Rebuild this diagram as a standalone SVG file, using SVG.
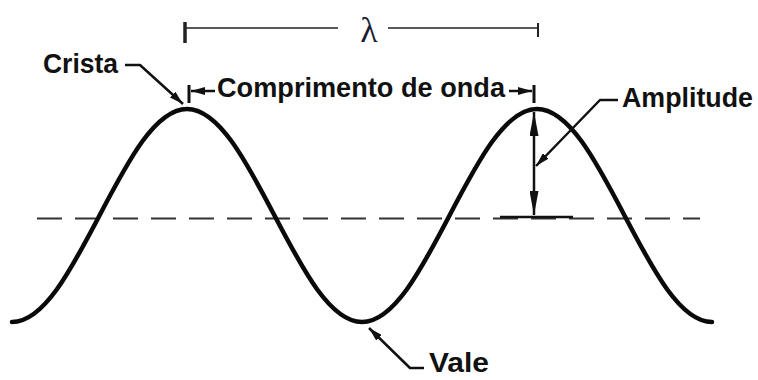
<svg xmlns="http://www.w3.org/2000/svg" width="758" height="380" viewBox="0 0 758 380">
<style>
.lbl{font-family:"Liberation Sans",Arial,sans-serif;font-weight:bold;font-size:27px;fill:#111}
.ptr{fill:none;stroke:#111;stroke-width:2.5;stroke-linejoin:round}
.thin{fill:none;stroke:#222;stroke-width:1.6}
</style>
<defs>
<marker id="ah" viewBox="0 0 14 8" refX="14" refY="4" markerWidth="14" markerHeight="8" markerUnits="userSpaceOnUse" orient="auto-start-reverse">
<path d="M0,0 L14,4 L0,8 Z" fill="#111"/>
</marker>
<marker id="ahl" viewBox="0 0 24 9" refX="24" refY="4.5" markerWidth="24" markerHeight="9" markerUnits="userSpaceOnUse" orient="auto-start-reverse">
<path d="M0,0 L24,4.5 L0,9 Z" fill="#111"/>
</marker>
</defs>
<rect width="758" height="380" fill="#fff"/>
<g id="axis">
<line x1="37" y1="218.5" x2="700" y2="218.5" stroke="#333" stroke-width="2" stroke-dasharray="25 13"/>
</g>
<g id="wave">
<path d="M12,322 C43.67,322 70.97,270.06 99.5,215.5 C128.03,160.94 155.33,109 187,109 C218.67,109 245.97,160.94 274.5,215.5 C303.03,270.06 330.33,322 362,322 C393.67,322 420.97,270.06 449.5,215.5 C478.03,160.94 505.33,109 537,109 C568.67,109 595.97,160.94 624.5,215.5 C653.03,270.06 680.33,322 712,322" fill="none" stroke="#0a0a0a" stroke-width="4.5" stroke-linecap="round"/>
</g>
<g id="lambda">
<path class="thin" d="M185,28 H338 M388,28 H538"/>
<line x1="185" y1="22" x2="185" y2="43" stroke="#222" stroke-width="3.5"/>
<line x1="538" y1="23" x2="538" y2="37" stroke="#222" stroke-width="2"/>
<text x="369" y="42" text-anchor="middle" style="font-family:'Liberation Serif','Times New Roman',serif;font-size:36px;fill:#1c1c30">λ</text>
</g>
<g id="connectors">
<path class="ptr" d="M125,65 H140 L183,104" marker-end="url(#ah)"/>
<path class="ptr" d="M618,100 H600 L536,166" marker-end="url(#ah)"/>
<path class="ptr" d="M424,368 H410 L369,328" marker-end="url(#ah)"/>
<line x1="189" y1="85" x2="189" y2="103" stroke="#111" stroke-width="3"/>
<line x1="215" y1="91" x2="191" y2="91" stroke="#111" stroke-width="2.5" marker-end="url(#ah)"/>
<line x1="534" y1="85" x2="534" y2="103" stroke="#111" stroke-width="3"/>
<line x1="509" y1="91" x2="532" y2="91" stroke="#111" stroke-width="2.5" marker-end="url(#ah)"/>
<line x1="534" y1="112" x2="534" y2="215" stroke="#111" stroke-width="2.5" marker-start="url(#ahl)" marker-end="url(#ahl)"/>
<line x1="500" y1="217" x2="573" y2="217" stroke="#111" stroke-width="2.5"/>
</g>
<g id="crista"><text class="lbl" x="43" y="73" textLength="75" lengthAdjust="spacingAndGlyphs">Crista</text></g>
<g id="comprimento"><text class="lbl" x="217" y="97" textLength="288" lengthAdjust="spacingAndGlyphs">Comprimento de onda</text></g>
<g id="amplitude"><text class="lbl" x="622" y="107" textLength="131" lengthAdjust="spacingAndGlyphs">Amplitude</text></g>
<g id="vale"><text class="lbl" x="429" y="372" textLength="60" lengthAdjust="spacingAndGlyphs">Vale</text></g>
</svg>
